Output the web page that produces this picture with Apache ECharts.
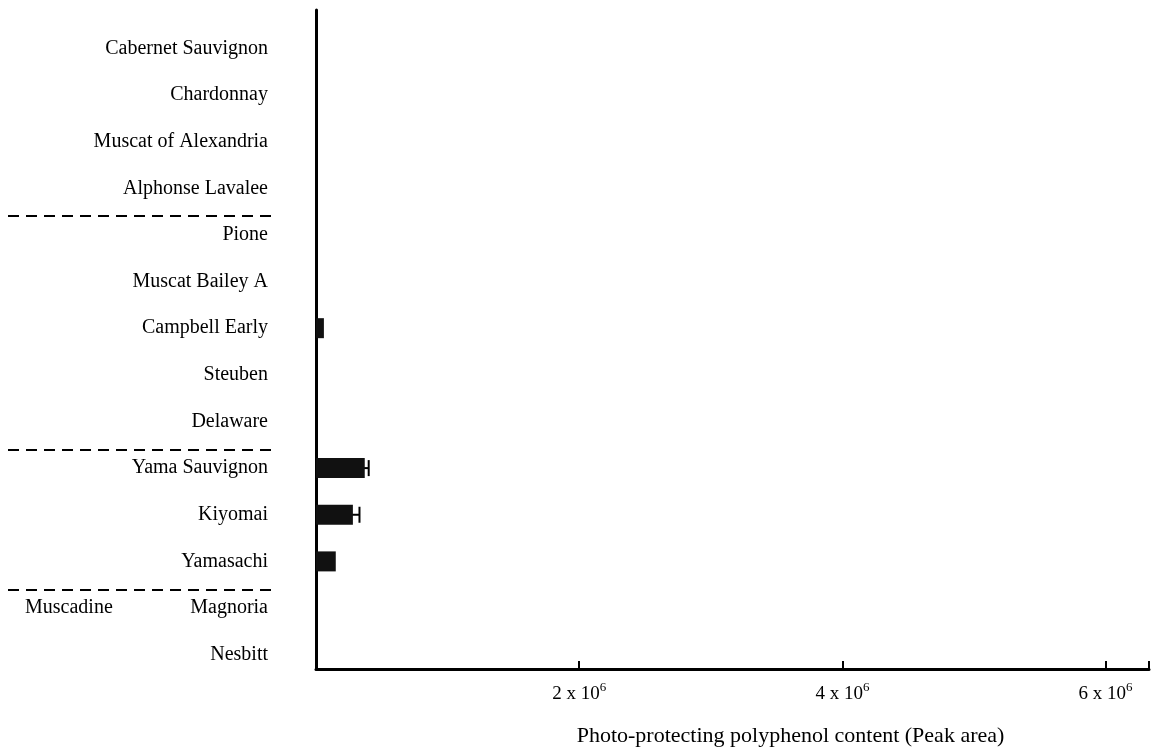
<!DOCTYPE html>
<html>
<head>
<meta charset="utf-8">
<script src="https://cdn.jsdelivr.net/npm/echarts@6/dist/echarts.min.js"></script>
<style>html,body{margin:0;padding:0;background:#fff;}#c{width:1152px;height:752px;}</style>
</head>
<body>
<div id="c"></div>
<script>
const categories = ['Cabernet Sauvignon','Chardonnay','Muscat of Alexandria','Alphonse Lavalee','Pione','Muscat Bailey A','Campbell Early','Steuben','Delaware','Yama Sauvignon','Kiyomai','Yamasachi','Magnoria','Nesbitt'];
const values = [0, 0, 0, 0, 0, 0, 0.06e6, 0, 0, 0.37e6, 0.28e6, 0.15e6, 0, 0];
const errors = [0, 0, 0, 0, 0, 0, 0, 0, 0, 0.03e6, 0.05e6, 0, 0, 0];
const groupStarts = [0, 4, 9, 12];
const groupNames = ['', '', '', 'Muscadine'];
const xTicks = [2e6, 4e6, 6e6];
const xTickLabels = [['2 x 10', '6'], ['4 x 10', '6'], ['6 x 10', '6']];
const xName = 'Photo-protecting polyphenol content (Peak area)';
const xMax = 6.33e6;

const FONT = 'Liberation Serif';
const SEP_SHIFT = 0.1;
const errData = values.map((v, i) => [v - errors[i], v + errors[i], i]).filter((d, i) => errors[i] > 0);
const sepLines = groupStarts.filter(s => s > 0).map(s => ({yAxis: s - 0.5 + SEP_SHIFT}));
const groupLabelData = groupStarts.map((s, g) => ({value: [0, s], name: groupNames[g]})).filter(d => d.name);

const chart = echarts.init(document.getElementById('c'), null, {renderer: 'canvas'});
chart.setOption({
  backgroundColor: '#fff',
  animation: false,
  textStyle: {fontFamily: FONT, color: '#000'},
  grid: [
    {left: 316, right: 2, top: 25, bottom: 74},
    {left: 316, right: 2, top: 10, bottom: 81},
    {left: 8, width: 270, top: 25, bottom: 74}
  ],
  xAxis: [
    {gridIndex: 0, type: 'value', min: 0, max: xMax, show: false},
    {gridIndex: 1, type: 'value', min: 0, max: xMax, interval: 2e6,
      axisLine: {show: true, lineStyle: {color: '#000', width: 3}},
      axisTick: {show: true, inside: true, length: 8, lineStyle: {color: '#000', width: 2}},
      splitLine: {show: false},
      axisLabel: {
        margin: 12,
        formatter: function (v) {
          const k = xTicks.indexOf(v);
          if (k < 0) return '';
          return '{b|' + xTickLabels[k][0] + '}{s|' + xTickLabels[k][1] + '}';
        },
        rich: {
          b: {fontFamily: FONT, fontSize: 19, color: '#000'},
          s: {fontFamily: FONT, fontSize: 13, color: '#000', verticalAlign: 'top', padding: [0, 0, 14, 0]}
        }
      },
      name: xName, nameLocation: 'middle', nameGap: 56,
      nameTextStyle: {fontFamily: FONT, fontSize: 22, color: '#000', padding: [0, 0, 0, 116]}
    },
    {gridIndex: 2, type: 'value', min: 0, max: 1, show: false}
  ],
  yAxis: [
    {gridIndex: 0, type: 'category', data: categories, inverse: true,
      axisLine: {show: false}, axisTick: {show: false}, splitLine: {show: false},
      axisLabel: {margin: 48, fontFamily: FONT, fontSize: 20, color: '#000'}
    },
    {gridIndex: 1, type: 'value', min: 0, max: 1,
      axisLine: {show: true, lineStyle: {color: '#000', width: 3}},
      axisTick: {show: false}, axisLabel: {show: false}, splitLine: {show: false}
    },
    {gridIndex: 2, type: 'value', inverse: true, min: -0.5, max: categories.length - 0.5, show: false}
  ],
  series: [
    {type: 'bar', xAxisIndex: 0, yAxisIndex: 0, data: values, barWidth: 20,
      itemStyle: {color: '#111'}, silent: true},
    {type: 'custom', xAxisIndex: 0, yAxisIndex: 0, data: errData, encode: {x: [0, 1], y: 2},
      renderItem: function (params, api) {
        const lo = api.coord([api.value(0), api.value(2)]);
        const hi = api.coord([api.value(1), api.value(2)]);
        const h = 8;
        return {type: 'group', children: [
          {type: 'line', shape: {x1: lo[0], y1: lo[1], x2: hi[0], y2: hi[1]}, style: {stroke: '#000', lineWidth: 2}},
          {type: 'line', shape: {x1: hi[0], y1: hi[1] - h, x2: hi[0], y2: hi[1] + h}, style: {stroke: '#000', lineWidth: 2}}
        ]};
      }
    },
    {type: 'scatter', xAxisIndex: 2, yAxisIndex: 2, data: groupLabelData, symbolSize: 0, silent: true,
      itemStyle: {opacity: 1, color: '#000'},
      label: {show: true, position: 'right', distance: 17, formatter: '{b}', fontFamily: FONT, fontSize: 20, color: '#000'},
      markLine: {silent: true, symbol: 'none', label: {show: false},
        lineStyle: {color: '#000', width: 2, type: [11, 7]},
        data: sepLines}
    }
  ]
});
</script>
</body>
</html>
